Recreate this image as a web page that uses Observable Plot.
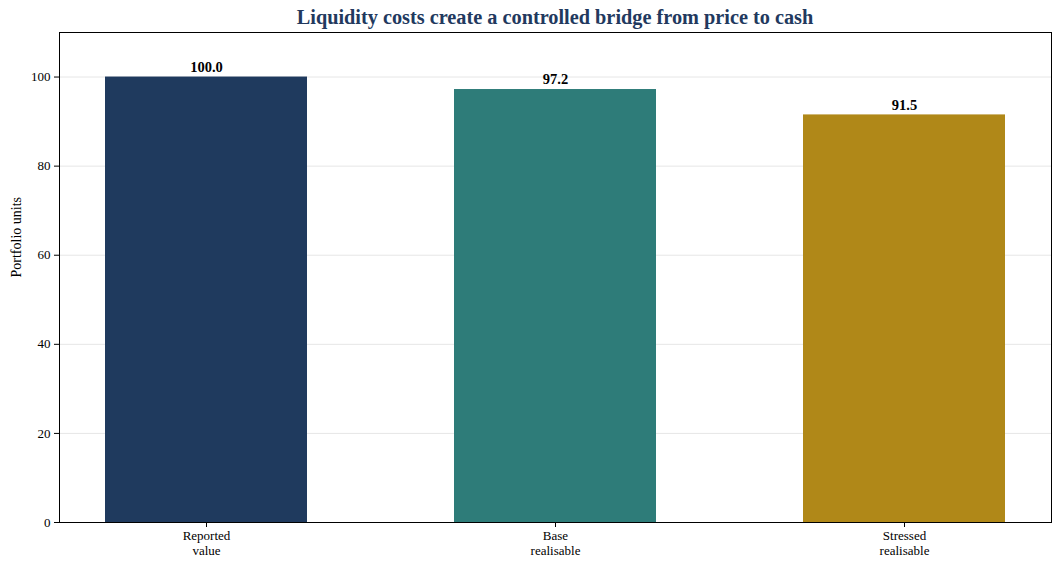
<!DOCTYPE html>
<html><head><meta charset="utf-8">
<script src="https://cdn.jsdelivr.net/npm/d3@7"></script>
<script src="https://cdn.jsdelivr.net/npm/@observablehq/plot@0.6"></script>
<style>
body{margin:0;background:#fff;font-family:"Liberation Serif","Times New Roman",serif;}
#title{height:22px;width:1060px;box-sizing:border-box;padding-left:59px;padding-right:9px;text-align:center;font-weight:bold;font-size:20.3px;color:#22395e;line-height:20px;padding-top:7px;}
</style></head>
<body>
<div id="title">Liquidity costs create a controlled bridge from price to cash</div>
<div id="chart"></div>
<script>
const categories = ["Reported\nvalue", "Base\nrealisable", "Stressed\nrealisable"];
const values = [100.0, 97.2, 91.5];
const colors = ["#1f3a5e", "#2e7c79", "#b08818"];
const yTicks = [0, 20, 40, 60, 80, 100];

const data = categories.map((c, i) => ({cat: c, v: values[i], color: colors[i]}));

const chart = Plot.plot({
  width: 1060,
  height: 548,
  marginTop: 10,
  marginLeft: 59,
  marginRight: 9,
  marginBottom: 48,
  style: {fontFamily: "Liberation Serif, Times New Roman, serif", fontSize: "13px", color: "#000", background: "#fff"},
  x: {domain: categories, paddingInner: 0.42, paddingOuter: 0.13, label: null, tickSize: 5},
  y: {domain: [0, 110], ticks: yTicks, label: "Portfolio units", labelAnchor: "center", labelArrow: "none", tickSize: 5},
  marks: [
    Plot.gridY(yTicks.filter(d => d > 0), {stroke: "#e6e6e6", strokeOpacity: 1}),
    Plot.barY(data, {x: "cat", y: "v", fill: "color"}),
    Plot.text(data, {x: "cat", y: "v", text: d => d.v.toFixed(1), dy: -10, fontWeight: "bold", fontSize: 14.5, fill: "#000"}),
    Plot.axisY({ticks: yTicks, tickSize: 5, tickPadding: 4, label: null, fontSize: 13}),
    Plot.text(["Portfolio units"], {frameAnchor: "left", dx: -43, rotate: -90, fontSize: 14, fill: "#000"}),
    Plot.axisX({tickSize: 5, label: null, fontSize: 13, tickPadding: 3, lineHeight: 1.08}),
    Plot.frame({stroke: "#000", strokeWidth: 1})
  ]
});
document.getElementById("chart").appendChild(chart);
</script>
</body></html>
